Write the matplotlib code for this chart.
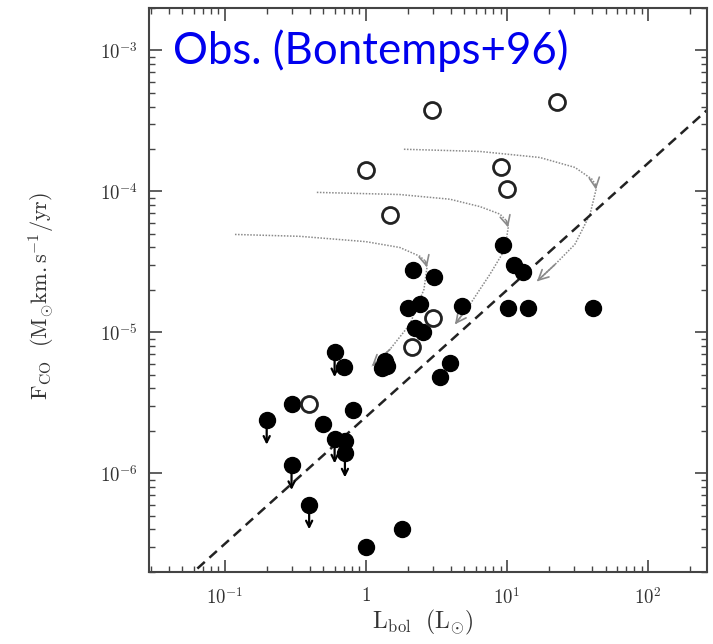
import numpy as np
import matplotlib
matplotlib.use("Agg")
import matplotlib.pyplot as plt
from matplotlib.ticker import LogLocator, FuncFormatter, NullFormatter

plt.rcParams["mathtext.fontset"] = "cm"
plt.rcParams["font.family"] = "serif"
plt.rcParams["font.serif"] = ["DejaVu Serif"]

# Class 0/I sources: bolometric luminosity (Lsun) and CO outflow flux (Msun km/s/yr)
detected_L = [9.4, 2.17, 3.04, 11.3, 13.1, 4.77, 10.2, 14.0, 40.9, 2.0,
              2.42, 2.23, 2.52, 0.70, 1.36, 1.30, 1.40, 3.94, 3.35, 0.297,
              0.805, 0.50, 0.71, 1.0, 1.79]
detected_F = [4.15e-5, 2.75e-5, 2.48e-5, 3.0e-5, 2.7e-5, 1.54e-5, 1.5e-5, 1.5e-5, 1.5e-5, 1.5e-5,
              1.6e-5, 1.08e-5, 1.0e-5, 5.7e-6, 6.3e-6, 5.6e-6, 5.8e-6, 6.1e-6, 4.8e-6, 3.09e-6,
              2.8e-6, 2.23e-6, 1.70e-6, 3.0e-7, 4.0e-7]

# Upper limits on the outflow flux
limit_L = [0.60, 0.198, 0.60, 0.71, 0.297, 0.396]
limit_F = [7.2e-6, 2.39e-6, 1.76e-6, 1.40e-6, 1.14e-6, 6.0e-7]

# Class 0 sources (open symbols)
class0_L = [2.96, 22.8, 1.0, 9.0, 10.0, 1.49, 3.0, 2.11, 0.396]
class0_F = [3.8e-4, 4.3e-4, 1.42e-4, 1.48e-4, 1.04e-4, 6.75e-5, 1.26e-5, 7.9e-6, 3.1e-6]

# Best-fit relation log F = a + b log L
fit_a = -5.6
fit_b = 0.9

# Evolutionary tracks (L, F); arrowheads sit at the listed indices
track1_L = [0.118, 0.34, 1.0, 1.74, 2.42, 2.64, 2.71, 2.58, 2.05, 1.48, 1.10]
track1_F = [4.95e-5, 4.8e-5, 4.4e-5, 4.0e-5, 3.46e-5, 3.2e-5, 2.89e-5, 2.02e-5, 1.14e-5, 7.57e-6, 5.74e-6]
track2_L = [0.449, 1.74, 3.94, 6.44, 8.92, 9.9, 10.2, 9.68, 7.57, 5.47, 4.28]
track2_F = [9.84e-5, 9.5e-5, 8.8e-5, 7.8e-5, 6.9e-5, 6.2e-5, 5.55e-5, 3.88e-5, 2.58e-5, 1.58e-5, 1.14e-5]
track3_L = [1.86, 6.44, 17.1, 30.3, 40.1, 42.3, 42.8, 38.8, 30.3, 21.9, 16.3]
track3_F = [1.99e-4, 1.92e-4, 1.74e-4, 1.48e-4, 1.22e-4, 1.12e-4, 1.03e-4, 6.87e-5, 4.21e-5, 3.03e-5, 2.3e-5]
arrow_idx = [6, 10]

fig = plt.figure(figsize=(7.13, 6.44), dpi=100)
ax = fig.add_axes([0.209, 0.112, 0.7826, 0.8756])
ax.set_xscale("log")
ax.set_yscale("log")
ax.set_xlim(0.029, 262)
ax.set_ylim(2.0e-7, 2.0e-3)

track_color = "#8a8a8a"
for tl, tf in [(track1_L, track1_F), (track2_L, track2_F), (track3_L, track3_F)]:
    ax.plot(tl, tf, ls=(0, (1, 1)), lw=1.1, color=track_color, zorder=1)
    for i in arrow_idx:
        ax.annotate("", xy=(tl[i], tf[i]), xytext=(tl[i - 1], tf[i - 1]),
                    arrowprops=dict(arrowstyle="->", color=track_color, lw=1.2,
                                    mutation_scale=18, shrinkA=0, shrinkB=0),
                    zorder=1)

# fit line across the full x-range
xl = np.array(ax.get_xlim())
ax.plot(xl, 10 ** (fit_a + fit_b * np.log10(xl)), ls=(0, (4, 2.5)), lw=1.8,
        color="#222222", zorder=2)

# arrows for the upper limits
for L, F in zip(limit_L, limit_F):
    ax.annotate("", xy=(L, F * 10 ** -0.175), xytext=(L, F),
                arrowprops=dict(arrowstyle="->", color="black", lw=1.6,
                                mutation_scale=11, shrinkA=0, shrinkB=0),
                zorder=3)

ms = 11.5
ax.plot(detected_L + limit_L, detected_F + limit_F, "o", ms=ms, color="black",
        mec="black", zorder=4)
ax.plot(class0_L, class0_F, "o", ms=ms, mfc="white", mec="#222222", mew=2.0,
        zorder=4)

# axes styling
for s in ax.spines.values():
    s.set_linewidth(1.5)
    s.set_color("#444444")
ax.tick_params(which="both", direction="in", top=True, right=True,
               colors="#444444", labelcolor="#333333")
ax.tick_params(which="major", length=9, width=1.2, labelsize=13.5)
ax.tick_params(axis="y", which="major", pad=8)
ax.tick_params(axis="x", which="major", pad=11)
ax.tick_params(which="minor", length=4.5, width=1.0)
ax.xaxis.set_major_locator(LogLocator(base=10, numticks=10))
ax.yaxis.set_major_locator(LogLocator(base=10, numticks=10))
ax.xaxis.set_minor_locator(LogLocator(base=10, subs=np.arange(2, 10), numticks=20))
ax.yaxis.set_minor_locator(LogLocator(base=10, subs=np.arange(2, 10), numticks=20))
ax.xaxis.set_minor_formatter(NullFormatter())
ax.yaxis.set_minor_formatter(NullFormatter())


def log_label(v, pos):
    e = int(round(np.log10(v)))
    if e == 0:
        return r"$\mathrm{1}$"
    return r"$\mathrm{10}^{%d}$" % e


ax.xaxis.set_major_formatter(FuncFormatter(log_label))
ax.yaxis.set_major_formatter(FuncFormatter(log_label))

ax.set_xlabel(r"$\mathrm{L_{bol}\ \ (L_{\odot})}$", fontsize=17, color="#333333")
ax.set_ylabel(r"$\mathrm{F_{CO}\ \ (M_{\odot}km.s^{-1}/yr)}$", fontsize=16,
              color="#333333")
ax.xaxis.label.set_va("center")
ax.yaxis.label.set_va("center")
ax.xaxis.set_label_coords(0.49, -0.089)
ax.yaxis.set_label_coords(-0.192, 0.49)

ax.text(0.043, 0.925, "Obs. (Bontemps+96)", transform=ax.transAxes,
        fontsize=31.5, color="#0000ee", family=["Lato", "DejaVu Sans"],
        ha="left", va="center", zorder=6)

fig.savefig("out.png", dpi=100, facecolor="white")
